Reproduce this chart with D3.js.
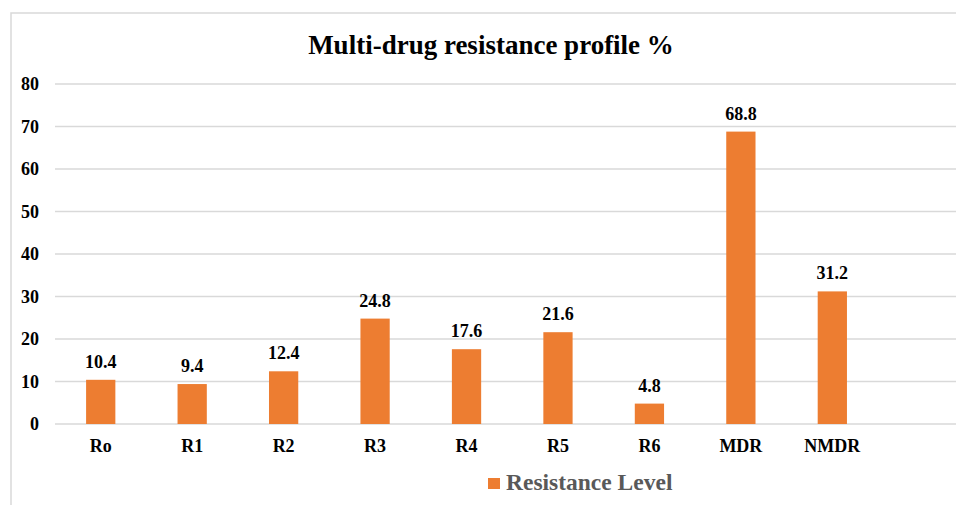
<!DOCTYPE html>
<html>
<head>
<meta charset="utf-8">
<script src="https://cdn.jsdelivr.net/npm/d3@7/dist/d3.min.js"></script>
<style>
  html, body { margin: 0; padding: 0; background: #fff; }
  svg { display: block; }
  text { font-family: "Liberation Serif", "Times New Roman", serif; font-weight: bold; }
</style>
</head>
<body>
<svg id="chart" width="956" height="505"></svg>
<script>
const categories = ["Ro", "R1", "R2", "R3", "R4", "R5", "R6", "MDR", "NMDR"];
const values = [10.4, 9.4, 12.4, 24.8, 17.6, 21.6, 4.8, 68.8, 31.2];
const yTicks = [0, 10, 20, 30, 40, 50, 60, 70, 80];
const title = "Multi-drug resistance profile %";
const seriesName = "Resistance Level";

const svg = d3.select("#chart");
const W = 956, H = 505;
const left = 55, step = 91.45;
const x = d3.scaleBand().domain(categories).range([left, left + step * categories.length]).paddingInner(0.68).paddingOuter(0.34);
const y = d3.scaleLinear().domain([0, 80]).range([424, 84]);

// frame
svg.append("rect").attr("x", 11).attr("y", 13).attr("width", W).attr("height", H)
  .attr("fill", "none").attr("stroke", "#d9d9d9").attr("stroke-width", 1.5);

// title
svg.append("text").attr("x", 491).attr("y", 54).attr("text-anchor", "middle")
  .attr("font-size", 27).attr("fill", "#000").text(title);

// gridlines
svg.append("g").selectAll("line").data(yTicks).join("line")
  .attr("x1", left).attr("x2", W).attr("y1", d => y(d)).attr("y2", d => y(d))
  .attr("stroke", "#d9d9d9").attr("stroke-width", 1.5);

// y axis labels
const yAxis = d3.axisLeft(y).tickValues(yTicks).tickSize(0).tickPadding(0);
const gy = svg.append("g").attr("transform", "translate(39,0)").call(yAxis);
gy.select(".domain").remove();
gy.selectAll("text").attr("font-size", 18).attr("fill", "#000")
  .style("font-family", '"Liberation Serif", serif').style("font-weight", "bold");

// bars
svg.append("g").selectAll("rect").data(values).join("rect")
  .attr("x", (d, i) => x(categories[i])).attr("width", x.bandwidth())
  .attr("y", d => y(d)).attr("height", d => y(0) - y(d))
  .attr("fill", "#ED7D31");

// value labels
svg.append("g").selectAll("text").data(values).join("text")
  .attr("x", (d, i) => x(categories[i]) + x.bandwidth() / 2)
  .attr("y", d => y(d) - 12).attr("text-anchor", "middle")
  .attr("font-size", 18).attr("fill", "#000").text(d => d.toFixed(1));

// x axis labels
const xAxis = d3.axisBottom(x).tickSize(0).tickPadding(0);
const gx = svg.append("g").attr("transform", "translate(0,439)").call(xAxis);
gx.select(".domain").remove();
gx.selectAll("text").attr("font-size", 18).attr("fill", "#000")
  .style("font-family", '"Liberation Serif", serif').style("font-weight", "bold");

// legend
const lg = svg.append("g").attr("transform", "translate(488,478)");
lg.append("rect").attr("width", 12).attr("height", 11).attr("fill", "#ED7D31");
lg.append("text").attr("x", 18).attr("y", 12).attr("font-size", 23.5).attr("fill", "#595959").text(seriesName);
</script>
</body>
</html>
